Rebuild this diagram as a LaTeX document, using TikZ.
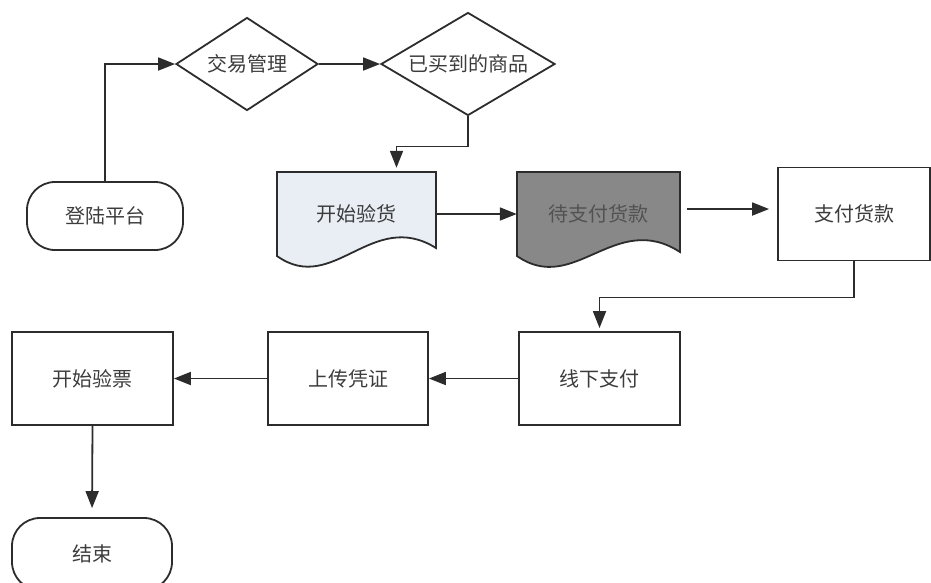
\documentclass[tikz,border=0pt]{standalone}
\usepackage{fontspec}
\setmainfont{Noto Sans CJK SC}
\usetikzlibrary{arrows.meta,shapes.geometric}

\definecolor{linegray}{HTML}{2C2C2C}
\definecolor{textgray}{HTML}{3C3C3C}
\definecolor{docblue}{HTML}{E9EEF4}
\definecolor{docdark}{HTML}{888888}
\definecolor{doclight}{HTML}{525252}

\begin{document}
\begin{tikzpicture}[x=1pt, y=-1pt,
    line/.style={draw=linegray, line width=1.8pt},
    flow/.style={line, -{Triangle[length=17pt,width=13pt]}},
    label/.style={text=textgray, font=\fontsize{20pt}{24pt}\selectfont, inner sep=0pt},
    term/.style={line, label, rectangle, rounded corners=28pt, minimum width=156pt, minimum height=68pt},
    decision/.style={line, label, diamond, aspect=1.5},
    box/.style={line, label, rectangle, minimum width=161pt, minimum height=93pt},
    doctext/.style={label, rectangle, minimum height=88pt}]

        % Page size
        \useasboundingbox (0,0) rectangle (931,582);

        % Document shapes (drawn first, text on top)
        \filldraw[line, fill=docblue] (277,172) -- (436,172) -- (436,248)
            .. controls (372,208) and (333,296) .. (277,256) -- cycle;
        \filldraw[line, fill=docdark] (517,172) -- (680,172) -- (680,252)
            .. controls (615,210) and (574,296) .. (517,256) -- cycle;

        % Nodes, top part
        \node[term] (login) at (105,216) {登陆平台};
        \node[decision, minimum width=142pt, minimum height=93pt] (trade) at (247,64) {交易管理};
        \node[decision, minimum width=174pt, minimum height=103pt] (shop) at (468,64) {已买到的商品};
        \node[doctext, minimum width=159pt] (check) at (356.5,214) {开始验货};
        \node[doctext, minimum width=163pt, text=doclight] (wait) at (598.5,214) {待支付货款};
        \node[box, minimum width=152pt] (pay) at (854,214) {支付货款};

        % Nodes, bottom part
        \node[box] (offline) at (599.5,378.5) {线下支付};
        \node[box, minimum width=160pt] (upload) at (348,378.5) {上传凭证};
        \node[box] (ticket) at (92.5,378.5) {开始验票};
        \node[term, minimum width=160pt, minimum height=72pt] (finish) at (92,554) {结束};

        % Connectors
        \draw[flow] (login.north) |- (trade.west);
        \draw[flow] (trade.east) -- (shop.west);
        \draw[flow, shorten >=2pt] (shop.south) -- ++(0,30) -| ([xshift=40pt]check.north);
        \draw[flow] (check.east) -- (wait.west);
        \draw[flow, shorten <=7pt, shorten >=8pt] ([yshift=5pt]wait.east) -- ([yshift=5pt]pay.west);
        \draw[flow, shorten >=3pt] (pay.south) -- ++(0,36) -| (offline.north);
        \draw[flow] (offline.west) -- (upload.east);
        \draw[flow] (upload.west) -- (ticket.east);
        \draw[flow, shorten >=9pt] (ticket.south) -- (finish.north);

    \end{tikzpicture}
\end{document}
